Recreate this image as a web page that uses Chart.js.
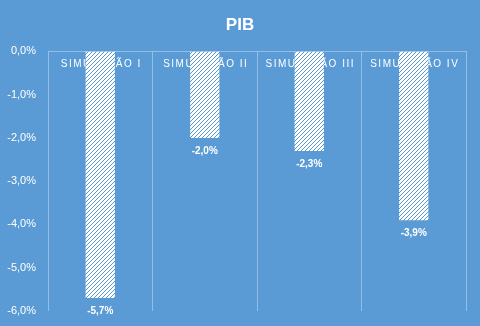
<!DOCTYPE html>
<html>
<head>
<meta charset="utf-8">
<script src="https://cdn.jsdelivr.net/npm/chart.js@4/dist/chart.umd.min.js"></script>
<style>
  html, body { margin: 0; padding: 0; background: #5B9BD5; }
  #wrap { width: 480px; height: 326px; }
</style>
</head>
<body>
<div id="wrap"><canvas id="chart" width="480" height="326"></canvas></div>
<script>
const categories = ['SIMULAÇÃO I', 'SIMULAÇÃO II', 'SIMULAÇÃO III', 'SIMULAÇÃO IV'];
const pibValues = [-5.7, -2.0, -2.3, -3.9];
const yTicks = [0, -1, -2, -3, -4, -5, -6];

const bg = '#5B9BD5';

// hatch pattern: white with thin blue "/" diagonals
function makeHatch() {
    const c = document.createElement('canvas');
    c.width = 4; c.height = 4;
    const g = c.getContext('2d');
    g.fillStyle = '#ffffff';
    g.fillRect(0, 0, 4, 4);
    g.fillStyle = bg;
    for (let i = 0; i < 4; i++) {
        g.fillRect(i, 3 - i, 1, 1);
    }
    return g.createPattern(c, 'repeat');
}

function fmt(v) {
    return v.toFixed(1).replace('.', ',') + '%';
}

// category names drawn inside the plot, under the bars
const catLabels = {
    id: 'catLabels',
    afterLayout(chart) {
        // let the y tick labels spill into the left padding
        chart.scales.y.left = 0;
    },
    beforeDatasetsDraw(chart) {
        const ctx = chart.ctx;
        const x = chart.scales.x;
        ctx.save();
        ctx.font = '10px "Liberation Sans", sans-serif';
        ctx.letterSpacing = '1.5px';
        ctx.fillStyle = '#ffffff';
        ctx.textAlign = 'center';
        ctx.textBaseline = 'middle';
        categories.forEach((c, i) => {
            ctx.fillText(c, x.getPixelForValue(i) + 1, chart.chartArea.top + 13);
        });
        ctx.restore();
    }
};

const valueLabels = {
    id: 'valueLabels',
    afterDatasetsDraw(chart) {
        const ctx = chart.ctx;
        const meta = chart.getDatasetMeta(0);
        ctx.save();
        ctx.font = 'bold 10px "Liberation Sans", sans-serif';
        ctx.fillStyle = '#ffffff';
        ctx.textAlign = 'center';
        ctx.textBaseline = 'middle';
        meta.data.forEach((bar, i) => {
            ctx.fillText(fmt(pibValues[i]), bar.x, bar.y + 13);
        });
        ctx.restore();
    }
};

const ctx = document.getElementById('chart').getContext('2d');
const myChart = new Chart(ctx, {
    type: 'bar',
    data: {
        labels: categories,
        datasets: [{
            label: 'PIB',
            data: pibValues,
            backgroundColor: makeHatch(),
            borderWidth: 0,
            categoryPercentage: 1,
            barPercentage: 0.28
        }]
    },
    options: {
        responsive: false,
        animation: false,
        layout: { padding: { left: 14, right: 14, top: 0, bottom: 15 } },
        plugins: {
            legend: { display: false },
            tooltip: { enabled: false },
            title: {
                display: true,
                text: 'PIB',
                color: '#ffffff',
                font: { family: '"Liberation Sans", sans-serif', size: 17, weight: 'bold' },
                padding: { top: 15, bottom: 16 }
            }
        },
        scales: {
            x: {
                position: 'top',
                ticks: { display: false },
                grid: {
                    offset: true,
                    color: 'rgba(255,255,255,0.35)',
                    drawTicks: false
                },
                border: { color: 'rgba(255,255,255,0.35)' }
            },
            y: {
                min: -6,
                max: 0,
                afterBuildTicks(axis) {
                    axis.ticks = yTicks.map(v => ({ value: v }));
                },
                afterFit(axis) {
                    axis.width = 34;
                    axis.paddingTop = 0;
                    axis.paddingBottom = 0;
                },
                ticks: {
                    color: '#ffffff',
                    padding: 12,
                    font: { family: '"Liberation Sans", sans-serif', size: 11 },
                    callback: v => fmt(v)
                },
                grid: { display: false, drawTicks: false },
                border: { display: false }
            }
        }
    },
    plugins: [catLabels, valueLabels]
});
</script>
</body>
</html>
